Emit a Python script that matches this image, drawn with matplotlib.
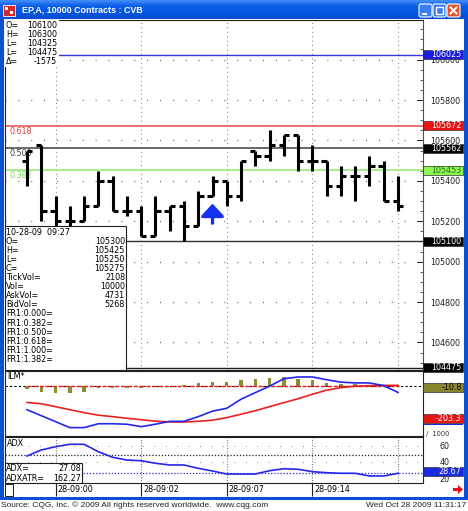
import numpy as np
import matplotlib
matplotlib.use("Agg")
import matplotlib.pyplot as plt
from matplotlib.patches import Rectangle, Polygon, FancyBboxPatch
from matplotlib.transforms import blended_transform_factory
from matplotlib.colors import LinearSegmentedColormap

# ---------------- data ----------------
opens  = [105500, 105575, 105250, 105200, 105200, 105275, 105400, 105250, 105250, 105125,
          105250, 105275, 105175, 105325, 105400, 105325, 105550, 105525, 105575, 105625,
          105500, 105500, 105375, 105425, 105425, 105475, 105300]
highs  = [105550, 105575, 105325, 105275, 105325, 105450, 105425, 105325, 105275, 105325,
          105275, 105300, 105350, 105425, 105400, 105500, 105550, 105650, 105625, 105625,
          105575, 105500, 105475, 105475, 105525, 105500, 105425]
lows   = [105375, 105200, 105150, 105150, 105200, 105275, 105250, 105225, 105125, 105125,
          105150, 105100, 105175, 105325, 105275, 105300, 105475, 105500, 105525, 105450,
          105450, 105325, 105325, 105300, 105375, 105300, 105250]
closes = [105550, 105250, 105200, 105200, 105275, 105400, 105250, 105250, 105125, 105250,
          105275, 105175, 105325, 105400, 105325, 105500, 105525, 105575, 105625, 105500,
          105500, 105375, 105425, 105425, 105475, 105300, 105275]

ilm_hist = [-20, -37, -48, -48, -37, -17, -17, -12, -17, -8, -4, 2, 14, 25, 25, 35, 42, 45,
            56, 42, 35, 19, 11, 8, 4, 4, -10.8]
ilm_slow = [-104, -112, -130, -149, -167, -183, -192, -202, -211, -220, -225, -225, -221, -214,
            -198, -177, -155, -130, -105, -81, -53, -28, -12, -3, 0, 2, 2]
ilm_fast = [-149, -186, -223, -260, -260, -236, -236, -239, -254, -239, -221, -221, -192, -158,
            -140, -84, -43, -3, 43, 54, 54, 37, 22, 17, 17, 0, -42]
adx = [47.1, 54.5, 58.5, 61.5, 61.5, 52.4, 45.5, 42.2, 41.3, 38.2, 36.1, 36.1, 32.0, 28.7,
       25.0, 25.0, 25.0, 29.1, 31.5, 30.8, 27.9, 26.6, 25.9, 25.9, 22.6, 22.6, 25.9]

time_labels = ["28-09:00", "28-09:02", "28-09:07", "28-09:14"]
time_label_bars = [2, 8, 14, 20]
grid_bars = [2, 8, 14, 20, 26]

fib_low, fib_high = 105100, 106025
fib_ratios = [0.618, 0.5, 0.382]
fib_names = ["0.618", "0.500", "0.382"]
session_low = 104475
price_ticks = list(range(104600, 106001, 200))
adx_ticks = [20, 40, 60]
adx_ref = 48
signal_bars = [13]

summary_labels = ["O=", "H=", "L=", "L=", "\u0394="]
summary_values = ["106100", "106300", "104325", "104475", "-1575"]
cursor_time = "10-28-09  09:27"
vol_labels = ["TickVol=", "Vol=", "AskVol=", "BidVol="]
vol_values = [2108, 10000, 4731, 5268]
fr_labels = ["FR1:0.000=", "FR1:0.382=", "FR1:0.500=", "FR1:0.618=", "FR1:1.000=", "FR1:1.382="]
ilm_box_values = [-10.8, -203.3]
adx_value, adxatr_value = 27.08, 162.27
adx_box_value = 28.67
title = "EP,A, 10000 Contracts : CVB"
footer_left = "Source: CQG, Inc. \u00a9 2009 All rights reserved worldwide.  www.cqg.com"
footer_right = "Wed Oct 28 2009 11:31:17"

# ---------------- layout ----------------
W, H = 468, 511
XL, XR = 5, 423
FONT = "DejaVu Sans"
FS = 5.8

def fr(x0, y0, x1, y1):
    return [x0 / W, 1 - y1 / H, (x1 - x0) / W, (y1 - y0) / H]

fig = plt.figure(figsize=(W / 100, H / 100), dpi=100)
fig.patch.set_facecolor("white")

def fig_rect(x0, y0, x1, y1, **kw):
    r = Rectangle((x0 / W, 1 - y1 / H), (x1 - x0) / W, (y1 - y0) / H,
                  transform=fig.transFigure, **kw)
    fig.add_artist(r)
    return r

# window frame
frame_blue = "#0a4fd6"
fig_rect(0, 18, 4, 500, facecolor=frame_blue, edgecolor="none")
fig_rect(464, 18, 468, 500, facecolor=frame_blue, edgecolor="none")
fig_rect(0, 497, 468, 500, facecolor=frame_blue, edgecolor="none")

# title bar
axt = fig.add_axes(fr(0, 0, W, 19))
cmap = LinearSegmentedColormap.from_list("xp", ["#4a95fa", "#0d5fe9", "#0556e4", "#0a4ccf"])
axt.imshow(np.linspace(0, 1, 40).reshape(-1, 1), aspect="auto", cmap=cmap,
           extent=(0, W, 19, 0))
axt.set_xlim(0, W)
axt.set_ylim(19, 0)
axt.axis("off")
axt.text(22, 10, title, color="white", fontsize=6.4, fontweight="bold",
         family="Liberation Sans", va="center", ha="left")
# icon
axt.add_patch(Rectangle((3, 5), 12, 11, facecolor="#d8282a", edgecolor="white", lw=0.6))
axt.add_patch(Rectangle((5, 7), 3, 3, facecolor="white", edgecolor="none"))
axt.add_patch(Rectangle((10, 11), 3, 3, facecolor="white", edgecolor="none"))
# buttons
for bx, col in [(419, "#3b7cf2"), (433, "#3b7cf2"), (447, "#e2552e")]:
    axt.add_patch(FancyBboxPatch((bx, 4), 13, 13, boxstyle="round,pad=0,rounding_size=2",
                                 facecolor=col, edgecolor="white", lw=0.8))
axt.add_patch(Rectangle((422, 12.5), 5, 2, facecolor="white", edgecolor="none"))
axt.add_patch(Rectangle((436, 7), 7, 7, facecolor="none", edgecolor="white", lw=1.0))
axt.add_patch(Rectangle((436, 7), 7, 1.5, facecolor="white", edgecolor="none"))
axt.plot([450.5, 456.5], [7.5, 13.5], color="white", lw=1.4)
axt.plot([450.5, 456.5], [13.5, 7.5], color="white", lw=1.4)

x = np.arange(len(opens))
bar_px0, bar_dx = 27.0, 14.27
xlim = ((XL - bar_px0) / bar_dx, (XR - bar_px0) / bar_dx)


def style_panel(ax):
    ax.set_xlim(*xlim)
    ax.set_facecolor("white")
    for s in ax.spines.values():
        s.set_color("#202020")
        s.set_linewidth(0.8)
    ax.set_xticks([])


def value_box(ax, yval, text, bg, fg, width_px=40, height_px=9):
    y0, y1 = ax.get_ylim()
    axh_px = ax.get_position().height * H
    upp = (y1 - y0) / axh_px
    axw_px = ax.get_position().width * W
    tr = blended_transform_factory(ax.transAxes, ax.transData)
    ax.add_patch(Rectangle((1.0, yval - upp * height_px / 2), width_px / axw_px,
                           upp * height_px, transform=tr, facecolor=bg,
                           edgecolor="#303030", lw=0.5, clip_on=False, zorder=8))
    ax.text(1.0 + (width_px - 1.5) / axw_px, yval, text, transform=tr, color=fg,
            fontsize=FS, family=FONT, ha="right", va="center", zorder=9, clip_on=False)


# ---------------- price panel ----------------
axp = fig.add_axes(fr(XL, 20, XR, 370))
style_panel(axp)
axp.set_ylim(105800 - (370 - 100) * 4.95, 105800 + (100 - 20) * 4.95)
axp.yaxis.tick_right()
axp.set_yticks(price_ticks)
axp.set_yticklabels([str(v) for v in price_ticks], family=FONT, fontsize=FS)
axp.set_yticks(np.arange(104500, 106151, 50), minor=True)
axp.tick_params(axis="y", which="major", direction="in", length=4, width=0.7, pad=5,
                colors="#202020")
axp.tick_params(axis="y", which="minor", direction="in", length=2, width=0.6,
                colors="#404040")
axp.spines["right"].set_color("#505050")

# grid
for gb in grid_bars:
    axp.axvline(gb, color="#707070", lw=0.8, ls=(0, (0.8, 3.2)), zorder=1)
for pt in price_ticks:
    axp.axhline(pt, color="#606060", lw=0.9, ls=(0, (0.8, 9.5)), zorder=1)

# fibonacci lines
fib_colors = ["#e84a4a", "#404040", "#8fe86a"]
fib_text_colors = ["#e04040", "#404040", "#80dd5a"]
fib_levels = [int(round(fib_low + r * (fib_high - fib_low))) for r in fib_ratios]
for lvl, name, c, tc in zip(fib_levels, fib_names, fib_colors, fib_text_colors):
    axp.axhline(lvl, color=c, lw=1.1, zorder=2)
    axp.annotate(name, xy=(0, lvl), xycoords=("axes fraction", "data"),
                 xytext=(3.5, -1), textcoords="offset points", color=tc, fontsize=FS,
                 family=FONT, ha="left", va="top", zorder=3)
axp.axhline(fib_high, color="#3535d8", lw=1.0, zorder=2)
axp.axhline(fib_low, color="#303030", lw=1.0, zorder=2)
axp.axhline(session_low, color="#202020", lw=1.0, zorder=2)

# OHLC bars
lw_bar = 2.2
axp.vlines(x, lows, highs, color="black", lw=lw_bar, zorder=4)
axp.hlines(opens, x - 0.37, x, color="black", lw=lw_bar, zorder=4)
axp.hlines(closes, x, x + 0.37, color="black", lw=lw_bar, zorder=4)

# signal arrow
for sb in signal_bars:
    axp.annotate("", xy=(sb, lows[sb] - 38), xytext=(sb, lows[sb] - 135),
                 arrowprops=dict(arrowstyle="-|>,head_width=0.7,head_length=0.75",
                                 color="#1530f0", lw=2.4, shrinkA=0, shrinkB=0), zorder=5)

# value boxes at right
value_box(axp, fib_high, str(fib_high), "#1d1de0", "white")
value_box(axp, fib_levels[0], str(fib_levels[0]), "#e41616", "white")
value_box(axp, fib_levels[1], str(fib_levels[1]), "#050505", "white")
value_box(axp, fib_levels[2], str(fib_levels[2]), "#8cf550", "#2f6f1f")
value_box(axp, fib_low, str(fib_low), "#050505", "white")
value_box(axp, session_low, str(session_low), "#050505", "white")

# top-left summary
def axy(ypx):
    return (370 - ypx) / 350.0

def axx(xpx):
    return (xpx - XL) / float(XR - XL)

axp.add_patch(Rectangle((0, axy(67)), axx(59), 1 - axy(67), transform=axp.transAxes,
                        facecolor="white", edgecolor="none", zorder=6))
for k, (lab, val) in enumerate(zip(summary_labels, summary_values)):
    yy = axy(25 + 9.2 * k)
    axp.text(axx(6), yy, lab, transform=axp.transAxes, fontsize=FS, family=FONT,
             va="center", ha="left", zorder=7)
    axp.text(axx(57), yy, val, transform=axp.transAxes, fontsize=FS, family=FONT,
             va="center", ha="right", zorder=7)

# cursor stats box
axp.add_patch(Rectangle((0, 0), axx(126), axy(226), transform=axp.transAxes,
                        facecolor="white", edgecolor="#202020", lw=0.8, zorder=6))
rows = [(cursor_time, "")]
rows += [("O=", str(opens[-1])), ("H=", str(highs[-1])), ("L=", str(lows[-1])),
         ("C=", str(closes[-1]))]
rows += [(l, str(v)) for l, v in zip(vol_labels, vol_values)]
rows += [(l, "") for l in fr_labels]
for k, (lab, val) in enumerate(rows):
    yy = axy(232 + 9.1 * k)
    axp.text(axx(6), yy, lab, transform=axp.transAxes, fontsize=FS, family=FONT,
             va="center", ha="left", zorder=7)
    if val:
        axp.text(axx(125), yy, val, transform=axp.transAxes, fontsize=FS, family=FONT,
                 va="center", ha="right", zorder=7)

# ---------------- ILM panel ----------------
axi = fig.add_axes(fr(XL, 371, XR, 436))
style_panel(axi)
axi.set_ylim(-312, 91)
axi.set_yticks([])
axi.axhline(0, color="black", lw=0.8, ls=(0, (2, 2)), zorder=2)
axi.bar(x, ilm_hist, width=0.24, color="#8c8c30", zorder=3)
axi.plot([x[0], x[-1]], [0, 0], color="#e82020", lw=1.0, ls=(0, (3, 1.5)), zorder=4)
axi.plot(x, ilm_slow, color="#e82020", lw=1.2, zorder=5)
axi.plot(x, ilm_fast, color="#2626ea", lw=1.2, zorder=5)
axi.text(axx(7), 0.92, "ILM*", transform=axi.transAxes, fontsize=FS, family=FONT,
         va="center", ha="left")
value_box(axi, ilm_box_values[0], "%.1f" % ilm_box_values[0], "#86862e", "#101000")
value_box(axi, ilm_box_values[1], "%.1f" % ilm_box_values[1], "#e41616", "white")
trb = blended_transform_factory(axi.transAxes, axi.transData)
axi.add_patch(Rectangle((1.0, ilm_box_values[1] - 40), 40 / 418, 8, transform=trb,
                        facecolor="#1a2ae0", edgecolor="none", clip_on=False, zorder=8))
axi.text(1.0 + 3 / 418, 0.03, "/  1000", transform=axi.transAxes, fontsize=4.8,
         family=FONT, va="center", ha="left", color="#303030")

# ---------------- ADX panel ----------------
axa = fig.add_axes(fr(XL, 437, XR, 483))
style_panel(axa)
axa.set_ylim(40 - (483 - 461.8) / 0.815, 40 + (461.8 - 437) / 0.815)
axa.yaxis.tick_right()
axa.set_yticks(adx_ticks)
axa.set_yticklabels([str(v) for v in adx_ticks], family=FONT, fontsize=FS)
axa.tick_params(axis="y", direction="in", length=0, pad=12, colors="#202020")
for gb in grid_bars:
    axa.axvline(gb, color="#606060", lw=0.8, ls=(0, (0.8, 1.6)), zorder=1)
for t in [40, 60]:
    axa.axhline(t, color="#909090", lw=0.8, ls=(0, (0.8, 9.5)), zorder=1)
axa.axhline(adx_ref, color="#202020", lw=0.9, ls=(0, (1, 1.5)), zorder=2)
axa.axhline(adx[-1], color="#2a2ae8", lw=0.9, ls=(0, (1, 1.5)), zorder=2)
axa.plot(x, adx, color="#2626ea", lw=1.2, zorder=4)
axa.text(axx(7), 0.86, "ADX", transform=axa.transAxes, fontsize=FS, family=FONT,
         va="center", ha="left")
value_box(axa, adx_box_value, "%.2f" % adx_box_value, "#1a2ae0", "white")

def ayA(ypx):
    return (483 - ypx) / 46.0

axa.add_patch(Rectangle((0, 0), axx(82), ayA(463), transform=axa.transAxes,
                        facecolor="white", edgecolor="#202020", lw=0.8, zorder=6))
for k, (lab, val) in enumerate([("ADX=", "%.2f" % adx_value),
                                ("ADXATR=", "%.2f" % adxatr_value)]):
    yy = ayA(468.5 + 9.5 * k)
    axa.text(axx(6), yy, lab, transform=axa.transAxes, fontsize=FS, family=FONT,
             va="center", ha="left", zorder=7)
    axa.text(axx(81), yy, val, transform=axa.transAxes, fontsize=FS, family=FONT,
             va="center", ha="right", zorder=7)

# time axis
axa.set_xticks(time_label_bars)
axa.set_xticklabels([])
axa.tick_params(axis="x", direction="out", length=9, width=0.8, colors="#202020")
for tb, tl in zip(time_label_bars, time_labels):
    axa.annotate(tl, xy=(tb, 0), xycoords=("data", "axes fraction"), xytext=(1.3, -4.4),
                 textcoords="offset points", fontsize=FS, family=FONT, ha="left",
                 va="center", annotation_clip=False)

fig_rect(5, 484, 13, 496, facecolor="white", edgecolor="#202020", lw=0.7)
fig.add_artist(Polygon([(453 / W, 1 - 488 / H), (458 / W, 1 - 488 / H), (458 / W, 1 - 485 / H),
                        (463 / W, 1 - 489.5 / H), (458 / W, 1 - 494 / H), (458 / W, 1 - 491 / H),
                        (453 / W, 1 - 491 / H)], closed=True, transform=fig.transFigure,
                       facecolor="#e81010", edgecolor="none"))

# footer
fig.text(1 / W, 1 - 505.5 / H, footer_left, fontsize=6.0, family="Liberation Sans",
         ha="left", va="center", color="#202020")
fig.text(466 / W, 1 - 505.5 / H, footer_right, fontsize=6.0, family="Liberation Sans",
         ha="right", va="center", color="#202020")

fig.savefig("out.png", dpi=100, facecolor="white")
